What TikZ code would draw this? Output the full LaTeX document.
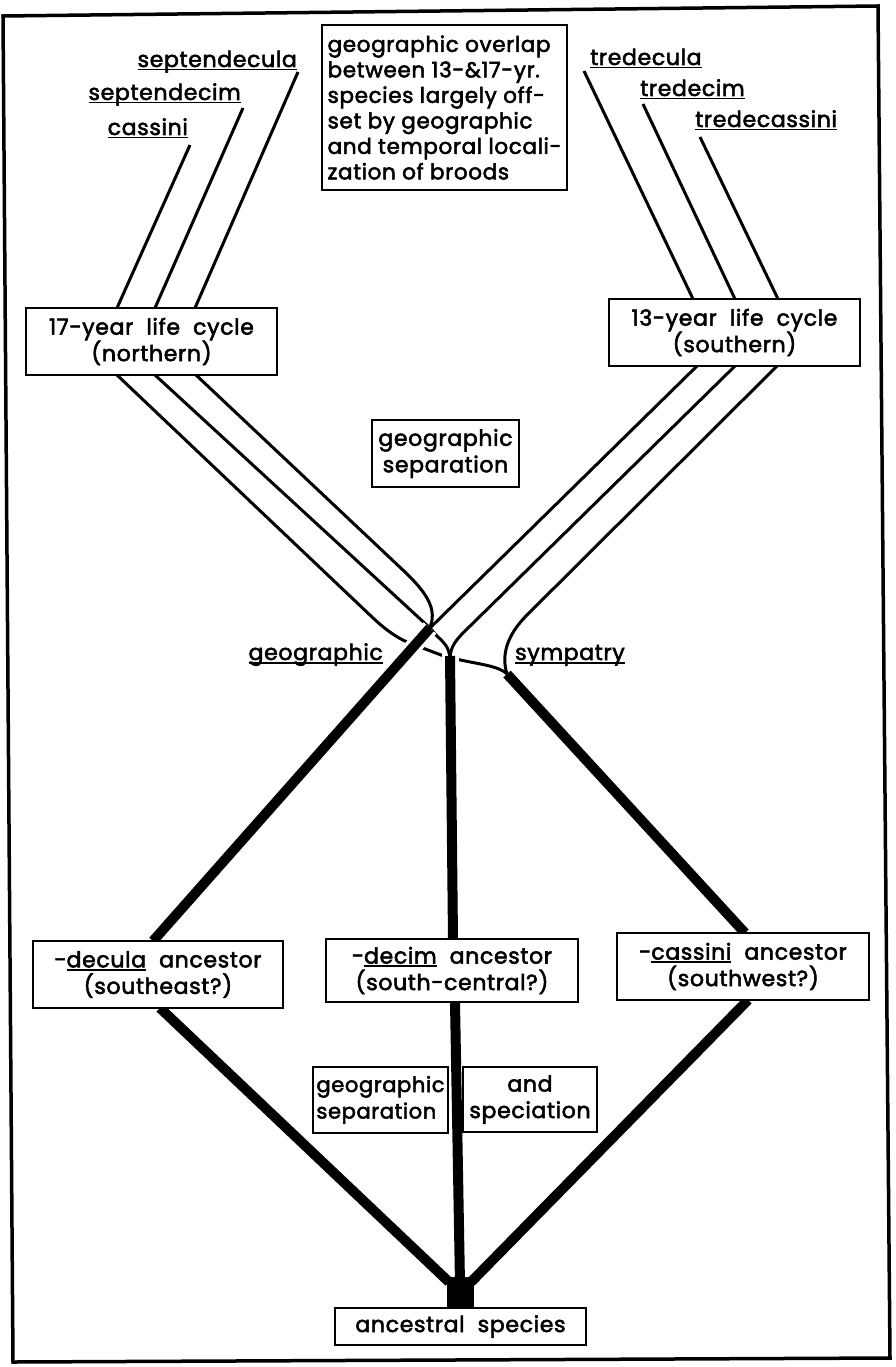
\documentclass[tikz,border=0pt]{standalone}
\usepackage{fontspec}
\setmainfont{Poppins}[LetterSpace=3, WordSpace=2, FakeBold=2.5]
\newfontfamily\tightfont{Poppins}[LetterSpace=3, FakeBold=2.5]
\usetikzlibrary{calc}
\pgfdeclarelayer{bg}
\pgfsetlayers{bg,main}
\newcommand{\uline}[1]{\setbox0\hbox{#1}\rlap{\rule[-3.5pt]{\wd0}{1.6pt}}\box0\relax}
\begin{document}
\begin{tikzpicture}[x=1pt,y=-1pt,
  every node/.style={font=\fontsize{22}{26.5}\selectfont},
  box/.style={draw, line width=2.4pt, fill=white, inner sep=0pt, align=center},
  lbox/.style={box, align=left},
  lab/.style={inner sep=0pt},
  thinline/.style={line width=3pt},
  thickline/.style={line width=10pt},
  halo/.style={white, line width=17pt},
  frameline/.style={line width=3.5pt, line join=miter}]
\useasboundingbox (0,0) rectangle (895,1367);
\draw[frameline] (3,16) -- (878,6) -- (890,1358) -- (13,1362) -- cycle;

% boxes
\node[lbox, minimum width=245pt, minimum height=165pt, font=\tightfont\fontsize{21.5}{25.5}\selectfont] (overlap) at (444.5,107.5)
 {geographic overlap\\between 13-\&17-yr.\\species largely off-\\set by geographic\\and temporal locali-\\zation of broods};
\node[box, minimum width=251pt, minimum height=67pt] (b17) at (151.5,341.5) {17-year life cycle\\(northern)};
\node[box, minimum width=251pt, minimum height=67pt] (b13) at (734.5,332.5) {13-year life cycle\\(southern)};
\node[box, minimum width=147pt, minimum height=67pt] (gsep) at (445.5,453.5) {geographic\\separation};
\node[box, minimum width=250pt, minimum height=67pt] (decula) at (158,974.5) {-\uline{decula} ancestor\\(southeast?)};
\node[box, minimum width=252pt, minimum height=63pt] (decim) at (452,970.5) {-\uline{decim} ancestor\\(south-central?)};
\node[box, minimum width=252pt, minimum height=67pt] (cassini) at (743,966.5) {-\uline{cassini} ancestor\\(southwest?)};
\node[lbox, minimum width=135pt, minimum height=66pt, inner xsep=2pt, font=\fontsize{21}{26.5}\selectfont] (gs1) at (380.5,1100) {geographic\\separation};
\node[box, minimum width=134pt, minimum height=65pt] (gs2) at (530,1099.5) {and\\speciation};
\node[box, minimum width=251pt, minimum height=37pt] (anc) at (460.5,1326.5) {ancestral species};

% labels
\node[lab, anchor=base east] (lsdecula) at (297,67) {\uline{septendecula}};
\node[lab, anchor=base east] (lsdecim) at (241,100) {\uline{septendecim}};
\node[lab, anchor=base east] (lcassini) at (188,135) {\uline{cassini}};
\node[lab, anchor=base west] (ltdecula) at (590,65) {\uline{tredecula}};
\node[lab, anchor=base west] (ltdecim) at (640,96) {\uline{tredecim}};
\node[lab, anchor=base west] (ltcassini) at (695,127) {\uline{tredecassini}};
\node[lab, anchor=base east] (lgeo) at (383,660) {\uline{geographic}};
\node[lab, anchor=base west] (lsym) at (515,660) {\uline{sympatry}};

% junctions
\coordinate (J1) at (430,628);
\coordinate (J2) at (450,656);
\coordinate (J3) at (507,674);
\coordinate (T) at (460,1284);

\begin{pgfonlayer}{bg}
% top thin lines
\draw[thinline] (298,72) -- (195,308);
\draw[thinline] (243,108) -- (155,308);
\draw[thinline] (190,145) -- (117,308);
\draw[thinline] (584,71) -- (693,299);
\draw[thinline] (643,104) -- (735,299);
\draw[thinline] (700,137) -- (778,299);
% cassini (leftmost 17-yr) passes under
\draw[thinline] (117,375) -- (372,617) .. controls (392,636) and (405,642) .. (420,647)
   -- (441,655) .. controls (470,664) and (497,664) .. (J3);
\draw[halo] (450,647) -- (450,669);
% septendecim
\draw[thinline] (155,375) -- (J1) -- (437,636) .. controls (447,645) and (450,650) .. (450,662);
\draw[halo] (397,665) -- (J1);
% thick decula upper
\draw[thickline] (J1) -- (153,941);
% septendecula
\draw[thinline] (196,375) -- (405,572) .. controls (427,593) and (434,607) .. (432,620) -- (J1);
% 13-yr lower
\draw[thinline] (697,366) -- (J1);
\draw[thinline] (735,366) -- (464,632) .. controls (452,644) and (450,650) .. (450,662);
\draw[thinline] (777,366) -- (527,615) .. controls (507,635) and (501,655) .. (J3);
% thick
\draw[thickline] (J2) -- (453,939);
\draw[thickline] (J3) -- (745,933);
\draw[thickline] (160,1008) -- (449,1282);
\draw[thickline] (455,1002) -- (T);
\draw[thickline] (748,1000) -- (471,1282);
\fill (447,1277) rectangle (474,1310);
\end{pgfonlayer}
\end{tikzpicture}
\end{document}
